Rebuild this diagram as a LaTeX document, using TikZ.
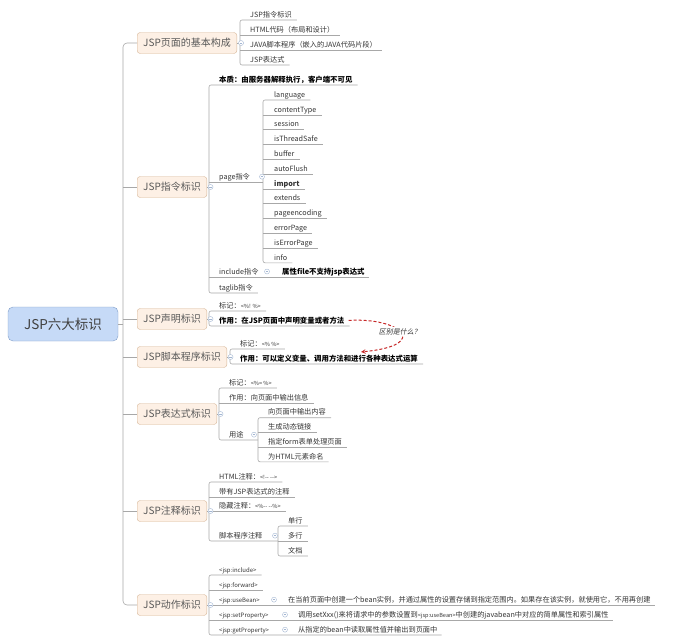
\documentclass[tikz,border=0pt]{standalone}
\usepackage{fontspec}
\setmainfont{Noto Sans CJK SC}
\newfontfamily\askfont[FakeSlant=0.2]{Noto Sans CJK SC}
\definecolor{rootfill}{HTML}{C6DAF7}
\definecolor{rootline}{HTML}{7F9CC7}
\definecolor{topicfill}{HTML}{FDF0E5}
\definecolor{topicline}{HTML}{D6B596}
\definecolor{linkgray}{HTML}{A8A8A8}
\definecolor{foldc}{HTML}{A3B6D2}
\definecolor{askred}{HTML}{C62828}
\newcommand\tagtxt[1]{{\fontsize{5.6}{6.5}\selectfont #1}}

\begin{document}
\begin{tikzpicture}[%
x=1pt, y=-1pt,
>=stealth,
root/.style={draw=rootline, fill=rootfill, rounded corners=5pt, minimum width=110pt,
  minimum height=34pt, text=black!75, font=\fontsize{13.5}{15}\selectfont},
topic/.style={draw=topicline, fill=topicfill, rounded corners=3pt, anchor=west,
  minimum height=21pt, inner xsep=6pt, text=black!65, font=\fontsize{10}{12}\selectfont},
leaf/.style={anchor=south west, inner xsep=0pt, inner ysep=1.6pt, text depth=1pt,
  text=black!80, font=\fontsize{7.2}{8}\selectfont},
hot/.style={leaf, text=black, font=\fontsize{7.4}{8}\selectfont\bfseries},
tagleaf/.style={leaf, font=\fontsize{6}{7}\selectfont},
link/.style={draw=linkgray, line width=0.6pt, rounded corners=4pt},
ul/.style={draw=linkgray, line width=0.6pt, rounded corners=2pt},
fold/.style={circle, draw=foldc, fill=white, line width=0.4pt, inner sep=0pt, minimum size=5pt,
  path picture={\draw[foldc, line width=0.4pt]
    ([xshift=-1.4pt]path picture bounding box.center) -- ([xshift=1.4pt]path picture bounding box.center);}},
ask/.style={->, draw=askred, dashed, line width=1pt, dash pattern=on 3pt off 2pt}
]
\useasboundingbox (0,0) rectangle (677,643);

% root and main topics
\node[root] (root) at (63,324) {JSP六大标识};
\node[topic] (t1) at (137,43) {JSP页面的基本构成};
\node[topic] (t2) at (137,187) {JSP指令标识};
\node[topic] (t3) at (137,319) {JSP声明标识};
\node[topic] (t4) at (137,357) {JSP脚本程序标识};
\node[topic] (t5) at (137,414) {JSP表达式标识};
\node[topic] (t6) at (137,511) {JSP注释标识};
\node[topic] (t7) at (137,605) {JSP动作标识};
\coordinate (trunk) at (123,324);
\draw[link] (t1.west) -| (trunk) |- (t7.west);
\draw[link] (root.east) -- (trunk);
\foreach \t in {t2,t3,t4,t5,t6} \draw[link] (trunk |- \t.west) -- (\t.west);

% JSP页面的基本构成
\coordinate (g1) at (240,43);
\foreach \w [count=\i] in {JSP指令标识,HTML代码（布局和设计）,JAVA脚本程序（嵌入的JAVA代码片段）,JSP表达式}
  \node[leaf] (a\i) at (250,{5+15*\i}) {\w};
\draw[link] (t1.east) -- (t1.east -| g1);
\draw[ul] ([xshift=5pt]a1.south east) -- (a1.south -| g1) -- (a4.south -| g1) -- ([xshift=5pt]a4.south east);
\foreach \i in {2,3} \draw[ul] (a\i.south -| g1) -- ([xshift=5pt]a\i.south east);

% JSP指令标识
\coordinate (g2) at (209,187);
\coordinate (g2p) at (263,182);
\node[hot] (b1) at (219,85) {本质：由服务器解释执行，客户端不可见};
\node[leaf] (pg) at (219,182) {page指令};
\node[leaf] (inc) at (219,277) {include指令};
\node[hot] (incf) at (282,277) {属性file不支持jsp表达式};
\node[leaf] (tl) at (219,293) {taglib指令};
\draw[link] (t2.east) -- (t2.east -| g2);
\draw[ul] ([xshift=5pt]b1.south east) -- (b1.south -| g2) -- (tl.south -| g2) -- ([xshift=5pt]tl.south east);
\draw[ul] (pg.south -| g2) -- (g2p);
\draw[ul] (inc.south -| g2) -- ([xshift=4pt]incf.south east);
\foreach \w [count=\i] in {language,contentType,session,isThreadSafe,buffer,autoFlush,\textbf{import},
  extends,pageencoding,errorPage,isErrorPage,info}
  \node[leaf] (p\i) at (274,{85.2+14.8*\i}) {\w};
\draw[ul] ([xshift=5pt]p1.south east) -- (p1.south -| g2p) -- (p12.south -| g2p) -- ([xshift=5pt]p12.south east);
\foreach \i in {2,...,11} \draw[ul] (p\i.south -| g2p) -- ([xshift=5pt]p\i.south east);

% JSP声明标识 / JSP脚本程序标识
\coordinate (g3) at (209,319);
\node[leaf] (d1) at (219,311) {标记：\tagtxt{<\%! \%>}};
\node[hot] (d2) at (219,326) {作用：在JSP页面中声明变量或者方法};
\draw[link] (t3.east) -- (t3.east -| g3);
\draw[ul] ([xshift=5pt]d1.south east) -- (d1.south -| g3) -- (d2.south -| g3) -- ([xshift=5pt]d2.south east);
\coordinate (g4) at (230,357);
\node[leaf] (s1) at (240,349) {标记：\tagtxt{<\% \%>}};
\node[hot] (s2) at (240,364) {作用：可以定义变量、调用方法和进行各种表达式运算};
\draw[link] (t4.east) -- (t4.east -| g4);
\draw[ul] ([xshift=5pt]s1.south east) -- (s1.south -| g4) -- (s2.south -| g4) -- ([xshift=5pt]s2.south east);
\draw[ask] ([xshift=4pt]d2.east) .. controls (400,317) and (432,345) .. ([xshift=32pt,yshift=1pt]s2.north)
  node[pos=0.48, fill=white, inner sep=1pt, text=black!80, font=\askfont\fontsize{7}{8}\selectfont] (ask) {区别是什么？};

% JSP表达式标识
\coordinate (g5) at (219,414);
\coordinate (g5u) at (258,440);
\node[leaf] (e1) at (229,388) {标记：\tagtxt{<\%= \%>}};
\node[leaf] (e2) at (229,403) {作用：向页面中输出信息};
\node[leaf] (e3) at (229,440) {用途};
\draw[link] (t5.east) -- (t5.east -| g5);
\draw[ul] ([xshift=5pt]e1.south east) -- (e1.south -| g5) -- (e3.south -| g5) -- (g5u);
\draw[ul] (e2.south -| g5) -- ([xshift=5pt]e2.south east);
\foreach \w [count=\i] in {向页面中输出内容,生成动态链接,指定form表单处理页面,为HTML元素命名}
  \node[leaf] (u\i) at (268,{403+14.7*\i}) {\w};
\draw[ul] ([xshift=5pt]u1.south east) -- (u1.south -| g5u) -- (u4.south -| g5u) -- ([xshift=5pt]u4.south east);
\foreach \i in {2,3} \draw[ul] (u\i.south -| g5u) -- ([xshift=5pt]u\i.south east);

% JSP注释标识
\coordinate (g6) at (209,511);
\coordinate (g6s) at (278,541);
\node[leaf] (c1) at (219,482) {HTML注释：\tagtxt{<!-{}- -{}->}};
\node[leaf] (c2) at (219,497) {带有JSP表达式的注释};
\node[leaf] (c3) at (219,511) {隐藏注释：\tagtxt{<\%-{}- -{}-\%>}};
\node[leaf] (c4) at (219,541) {脚本程序注释};
\draw[link] (t6.east) -- (t6.east -| g6);
\draw[ul] ([xshift=5pt]c1.south east) -- (c1.south -| g6) -- (c4.south -| g6) -- (g6s);
\foreach \i in {2,3} \draw[ul] (c\i.south -| g6) -- ([xshift=5pt]c\i.south east);
\foreach \w [count=\i] in {单行,多行,文档}
  \node[leaf] (k\i) at (288,{511+15*\i}) {\w};
\draw[ul] ([xshift=5pt]k1.south east) -- (k1.south -| g6s) -- (k3.south -| g6s) -- ([xshift=5pt]k3.south east);
\draw[ul] (k2.south -| g6s) -- ([xshift=5pt]k2.south east);

% JSP动作标识
\coordinate (g7) at (209,605);
\foreach \w [count=\i] in {<jsp:include>,<jsp:forward>,<jsp:useBean>,<jsp:setProperty>,<jsp:getProperty>}
  \node[tagleaf] (j\i) at (219,{560+15*\i}) {\w};
\node[leaf] (j3f) at (288,605) {在当前页面中创建一个bean实例，并通过属性的设置存储到指定范围内。如果存在该实例，就使用它，不用再创建};
\node[leaf] (j4f) at (298,620) {调用setXxx()来将请求中的参数设置到\tagtxt{<jsp:useBean>}中创建的javabean中对应的简单属性和索引属性};
\node[leaf] (j5f) at (298,635) {从指定的bean中读取属性值并输出到页面中};
\draw[link] (t7.east) -- (t7.east -| g7);
\draw[ul] ([xshift=5pt]j1.south east) -- (j1.south -| g7) -- (j5.south -| g7) -- ([xshift=4pt]j5f.south east);
\draw[ul] (j2.south -| g7) -- ([xshift=5pt]j2.south east);
\draw[ul] (j3.south -| g7) -- ([xshift=4pt]j3f.south east);
\draw[ul] (j4.south -| g7) -- ([xshift=4pt]j4f.south east);

% fold marks
\node[fold] (f1) at ([xshift=4pt]t1.east) {};
\foreach \t in {2,...,7} \node[fold] (f\t) at ([xshift=3.5pt]t\t.east) {};
\node[fold, xshift=-1pt] (fpg) at (pg.east -| g2p) {};
\node[fold, xshift=-15pt] (finc) at (incf.west) {};
\node[fold, xshift=-4pt] (fuse) at (e3.east -| g5u) {};
\node[fold, xshift=-3pt] (fsc) at (c4.east -| g6s) {};
\node[fold, xshift=-14pt] (fj3) at (j3f.west) {};
\node[fold, xshift=-13pt] (fj4) at (j4f.west) {};
\node[fold, xshift=-13pt] (fj5) at (j5f.west) {};
\end{tikzpicture}
\end{document}
